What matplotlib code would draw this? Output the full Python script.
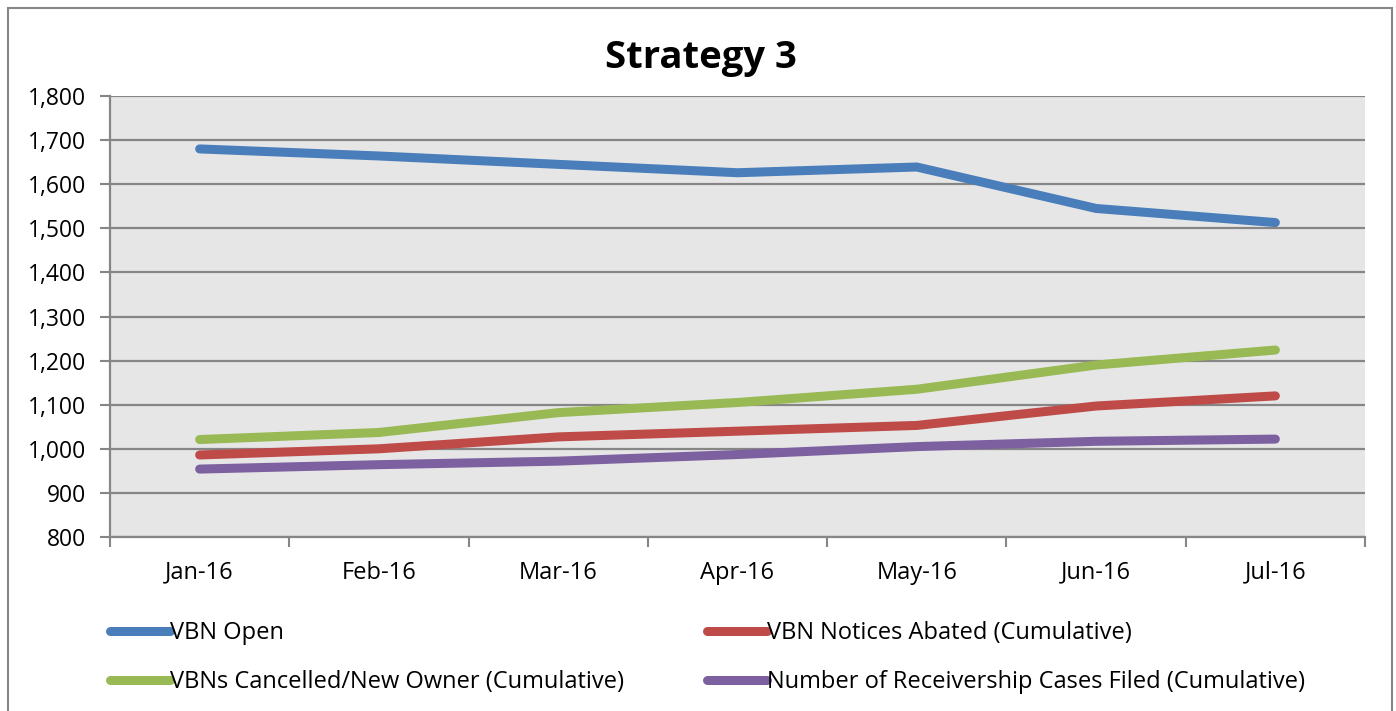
import matplotlib
matplotlib.use("Agg")
import matplotlib.pyplot as plt
from matplotlib.patches import Rectangle

months = ["Jan-16", "Feb-16", "Mar-16", "Apr-16", "May-16", "Jun-16", "Jul-16"]
vbn_open = [1680, 1664, 1645, 1626, 1639, 1545, 1513]
notices_abated = [986, 1000, 1027, 1040, 1053, 1097, 1120]
cancelled_new_owner = [1021, 1037, 1082, 1105, 1135, 1190, 1224]
receivership = [954, 964, 972, 987, 1005, 1017, 1022]

series = [
    ("VBN Open", vbn_open, "#4A7EBB"),
    ("VBN Notices Abated (Cumulative)", notices_abated, "#BE4B48"),
    ("VBNs Cancelled/New Owner (Cumulative)", cancelled_new_owner, "#98B954"),
    ("Number of Receivership Cases Filed (Cumulative)", receivership, "#7D60A0"),
]

plt.rcParams['font.family'] = ['Open Sans', 'DejaVu Sans']

W, H = 1396, 711
fig = plt.figure(figsize=(W / 100, H / 100), dpi=100)
ax = fig.add_axes([110 / W, 1 - 537 / H, (1365 - 110) / W, (537 - 96) / H])
ax.set_facecolor("#E6E6E6")

x = list(range(len(months)))
handles = {}
for name, vals, col in series:
    ln, = ax.plot(x, vals, color=col, lw=6.5, solid_capstyle="round",
                  solid_joinstyle="round", label=name, zorder=3)
    handles[name] = ln

ax.set_ylim(800, 1800)
ax.set_yticks(range(800, 1801, 100))
ax.set_yticklabels([f"{v:,}" for v in range(800, 1801, 100)], fontsize=16.5)
ax.set_xlim(-0.5, len(months) - 0.5)
ax.set_xticks(x)
ax.set_xticklabels(months, fontsize=17)
ax.set_xticks([i - 0.5 for i in range(len(months) + 1)], minor=True)
ax.tick_params(axis="x", which="major", length=0, pad=17)
ax.tick_params(axis="x", which="minor", length=7, width=1.5, color="#868686")
ax.tick_params(axis="y", length=7, width=1.5, color="#868686", pad=10.5)
ax.yaxis.grid(True, color="#868686", lw=1.6)
ax.set_axisbelow(True)
for s in ["top", "right"]:
    ax.spines[s].set_visible(False)
for s in ["left", "bottom"]:
    ax.spines[s].set_color("#868686")
    ax.spines[s].set_linewidth(1.6)

fig.text(701 / W, 1 - 58 / H, "Strategy 3", ha="center", va="center",
         fontsize=27.5, fontweight="bold")

order = [series[0][0], series[2][0], series[1][0], series[3][0]]
leg = fig.legend([handles[n] for n in order], order, ncol=2,
                 loc="upper left", bbox_to_anchor=(110 / W, 1 - 621 / H),
                 frameon=False, fontsize=17, handlelength=2.55,
                 handletextpad=0.0, columnspacing=3.5, labelspacing=1.05,
                 borderpad=0, borderaxespad=0)

fig.patches.append(Rectangle((8 / W, -0.05), (1392 - 8) / W, 1.05 - 8 / H,
                             transform=fig.transFigure, fill=False,
                             edgecolor="#868686", lw=1.5))

fig.savefig("out.png", dpi=100, facecolor="white")
